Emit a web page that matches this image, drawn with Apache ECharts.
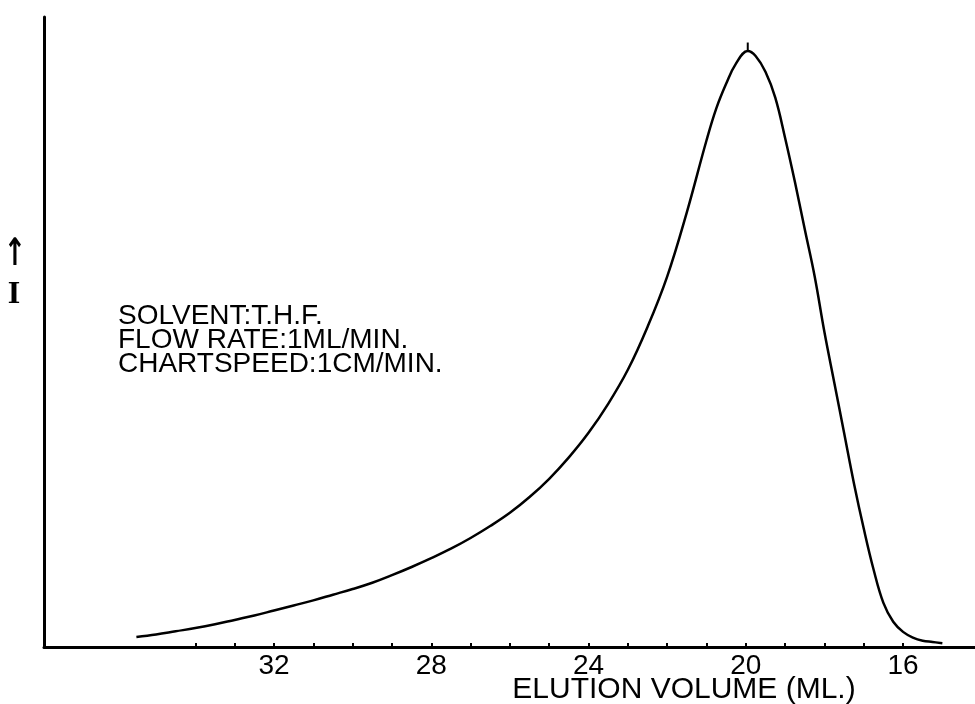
<!DOCTYPE html>
<html>
<head>
<meta charset="utf-8">
<script src="https://cdn.jsdelivr.net/npm/echarts@6/dist/echarts.min.js"></script>
<style>
  html, body { margin: 0; padding: 0; background: #fff; }
  #chart { width: 975px; height: 704px; }
</style>
</head>
<body>
<div id="chart"></div>
<script>
// GPC trace: detector response vs elution volume (mL), axis runs high → low
const elutionVolume = [
  35.5, 35.0, 34.5, 34.0, 33.5, 33.0, 32.5, 32.0, 31.5, 31.0,
  30.5, 30.0, 29.5, 29.0, 28.5, 28.0, 27.5, 27.0, 26.5, 26.0,
  25.5, 25.0, 24.5, 24.0, 23.5, 23.0, 22.5, 22.0, 21.5, 21.0,
  20.75, 20.5, 20.25, 19.95, 19.75, 19.5, 19.25, 19.0, 18.75, 18.5,
  18.25, 18.0, 17.75, 17.5, 17.25, 17.0, 16.75, 16.5, 16.25, 16.0,
  15.75, 15.5, 15.25, 15.0
];
const intensity = [
  1.6, 2.0, 2.5, 3.0, 3.6, 4.3, 5.0, 5.8, 6.6, 7.4,
  8.3, 9.2, 10.2, 11.4, 12.7, 14.1, 15.6, 17.3, 19.2, 21.3,
  23.8, 26.7, 30.1, 34.0, 38.6, 44.0, 50.8, 58.8, 69.0, 80.4,
  85.5, 89.4, 92.6, 94.6, 93.8, 91.3, 87.2, 80.8, 73.8, 66.3,
  58.9, 50.0, 42.0, 34.0, 26.0, 18.8, 12.3, 7.0, 4.0, 2.4,
  1.5, 1.0, 0.8, 0.6
];
const tickLabels = [32, 28, 24, 20, 16];
const minorTicks = [34, 33, 32, 31, 30, 29, 28, 27, 26, 25, 24, 23, 22, 21, 20, 19, 18, 17, 16];
const peakVolume = 19.95;
const peakIntensity = 94.6;

const infoLines = ['SOLVENT:T.H.F.', 'FLOW RATE:1ML/MIN.', 'CHARTSPEED:1CM/MIN.'];
const xTitle = 'ELUTION VOLUME (ML.)';

const trace = elutionVolume.map((v, i) => [v, intensity[i]]);

const textFont = '"Liberation Sans", Arial, sans-serif';

const chart = echarts.init(document.getElementById('chart'), null, { renderer: 'canvas' });
chart.setOption({
  backgroundColor: '#ffffff',
  animation: false,
  grid: { left: 44, right: 0, top: 17, bottom: 57, containLabel: false },
  xAxis: {
    type: 'value',
    inverse: true,
    min: 14.17,
    max: 37.85,
    axisLine: { show: true, onZero: false, lineStyle: { color: '#000', width: 3 } },
    axisTick: {
      show: true, inside: true, length: 4,
      customValues: minorTicks,
      lineStyle: { color: '#000', width: 2 }
    },
    axisLabel: {
      show: true,
      customValues: tickLabels,
      margin: 5,
      color: '#000',
      fontFamily: textFont,
      fontSize: 28,
      formatter: v => String(v)
    },
    splitLine: { show: false }
  },
  yAxis: {
    type: 'value',
    min: 0,
    max: 100,
    axisLine: { show: true, lineStyle: { color: '#000', width: 3 } },
    axisTick: { show: false },
    axisLabel: { show: false },
    splitLine: { show: false }
  },
  series: [{
    type: 'line',
    data: trace,
    smooth: 0.4,
    showSymbol: false,
    lineStyle: { color: '#000', width: 2.5 },
    markPoint: {
      symbol: 'rect',
      symbolSize: [2, 9],
      symbolOffset: [0, -4],
      itemStyle: { color: '#000' },
      label: { show: false },
      data: [{ coord: [peakVolume, peakIntensity] }]
    }
  }],
  graphic: [
    {
      type: 'text',
      left: 118,
      top: 302,
      style: {
        text: infoLines.join('\n'),
        fill: '#000',
        font: '28px ' + textFont,
        lineHeight: 24
      }
    },
    {
      type: 'text',
      x: 684,
      y: 690,
      style: {
        text: xTitle,
        fill: '#000',
        font: '30px ' + textFont,
        textAlign: 'center',
        textVerticalAlign: 'middle'
      }
    },
    {
      type: 'text',
      x: 15,
      y: 255,
      scaleX: 0.7,
      style: {
        text: '↑',
        fill: '#000',
        font: 'bold 38px "DejaVu Sans", sans-serif',
        textAlign: 'center',
        textVerticalAlign: 'middle'
      }
    },
    {
      type: 'text',
      x: 14,
      y: 295,
      style: {
        text: 'I',
        fill: '#000',
        font: 'bold 32px "Liberation Serif", serif',
        textAlign: 'center',
        textVerticalAlign: 'middle'
      }
    }
  ]
});
</script>
</body>
</html>
